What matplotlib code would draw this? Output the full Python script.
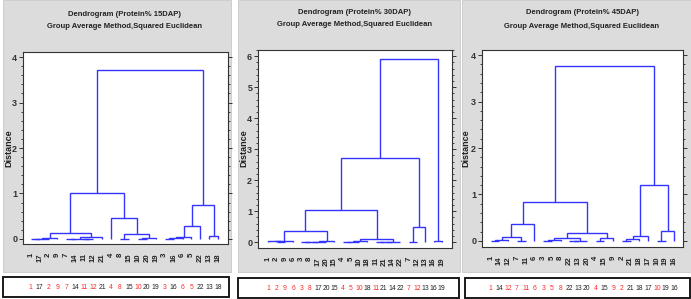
import matplotlib
matplotlib.use("Agg")
import matplotlib.pyplot as plt
from matplotlib.patches import Rectangle
from matplotlib.ticker import MultipleLocator
from matplotlib import transforms

# ---- data -------------------------------------------------------------
TITLES = ["Dendrogram (Protein% 15DAP)",
          "Dendrogram (Protein% 30DAP)",
          "Dendrogram (Protein% 45DAP)"]
SUBTITLE = "Group Average Method,Squared Euclidean"

LEAVES_15 = ["1", "17", "2", "9", "7", "14", "11", "12", "21", "4", "8",
             "15", "10", "20", "19", "3", "16", "6", "5", "22", "13", "18"]
LEAVES_30 = ["1", "2", "9", "6", "3", "8", "17", "20", "15", "4", "5",
             "10", "18", "11", "21", "14", "22", "7", "12", "13", "16", "19"]
LEAVES_45 = ["1", "14", "12", "7", "11", "6", "3", "5", "8", "22", "13",
             "20", "4", "15", "9", "2", "21", "18", "17", "10", "19", "16"]

# genotypes printed in red in the boxes under each dendrogram
RED_15 = ["1", "2", "9", "7", "11", "12", "4", "8", "10", "3", "6", "5"]
RED_30 = ["1", "2", "9", "6", "3", "8", "4", "5", "10", "11", "7", "12"]
RED_45 = ["1", "12", "7", "11", "6", "3", "5", "8", "4", "9", "2", "10"]

# merges: (left, right, distance); str = leaf label, int = earlier merge row
MERGES_15 = [
    ("1", "17", 0.0), (0, "2", 0.0), (1, "9", 0.02),
    ("7", "14", 0.0), ("11", "12", 0.0), (3, 4, 0.01), (5, "21", 0.035),
    (2, 6, 0.14),
    ("8", "15", 0.0), ("10", "20", 0.0), (9, "19", 0.02), (8, 10, 0.11),
    ("4", 11, 0.47), (7, 12, 1.01),
    ("3", "16", 0.0), (14, "6", 0.015), (15, "5", 0.05), (16, "22", 0.285),
    ("13", "18", 0.07), (17, 18, 0.745),
    (13, 19, 3.72),
]
MERGES_30 = [
    ("2", "9", 0.0), ("1", 0, 0.02), (1, "6", 0.025),
    ("3", "8", 0.0), (3, "17", 0.0), (4, "20", 0.005), (5, "15", 0.05),
    (2, 6, 0.37),
    ("4", "5", 0.0), (8, "10", 0.01), (9, "18", 0.03),
    ("11", "21", 0.0), (11, "14", 0.0), (12, "22", 0.005), (10, 13, 0.09),
    (7, 14, 1.05),
    ("7", "12", 0.0), (16, "13", 0.5), (15, 17, 2.73),
    ("16", "19", 0.03), (18, 19, 5.9),
]
MERGES_45 = [
    ("1", "14", 0.0), (0, "12", 0.02), ("7", "11", 0.0), (1, 2, 0.08),
    (3, "6", 0.36),
    ("3", "5", 0.0), (5, "8", 0.02), ("22", "13", 0.0), (7, "20", 0.0),
    (6, 8, 0.06), ("4", "15", 0.0), (10, "9", 0.06), (9, 11, 0.17),
    (4, 12, 0.84),
    ("2", "21", 0.0), (14, "18", 0.04), (15, "17", 0.11),
    ("10", "19", 0.0), (17, "16", 0.21), (16, 18, 1.2),
    (13, 19, 3.77),
]

# ---- layout (pixel boxes on the 691x299 canvas) ------------------------
W, H = 691, 299
BLUE = "#3434ff"
RED = "#ff2a2a"
GRAY = "#dcdcdc"
FONT = ["Liberation Sans", "DejaVu Sans"]

LAYOUT = [
    dict(gray=(3, 0, 228, 272), box=(3, 277, 226, 20), ax=(23, 52, 205, 192),
         xlim=(-0.86, 22.09), ylim=(-0.11, 4.11), title_x=125, title_y=(15, 27),
         ylab_x=9, ymax=4),
    dict(gray=(238, 0, 222, 272), box=(238, 278, 221, 20), ax=(258, 50, 194, 198),
         xlim=(-1.25, 22.24), ylim=(-0.19, 6.2), title_x=355, title_y=(12, 25),
         ylab_x=244, ymax=6),
    dict(gray=(462, 0, 229, 272), box=(465, 278, 225, 20), ax=(482, 50, 201, 197),
         xlim=(-1.0, 22.0), ylim=(-0.13, 4.11), title_x=582, title_y=(13, 26),
         ylab_x=466, ymax=4),
]


def fx(px):
    return px / W


def fy(py):
    return 1 - py / H


def draw_tree(ax, leaves, merges):
    pos = {lab: i for i, lab in enumerate(leaves)}
    nodes = []

    def get(ref):
        if isinstance(ref, str):
            return pos[ref], 0.0
        return nodes[ref]

    for left, right, h in merges:
        xl, hl = get(left)
        xr, hr = get(right)
        ax.plot([xl, xl, xr, xr], [hl, h, h, hr], color=BLUE, lw=1.0,
                solid_capstyle="butt", solid_joinstyle="miter")
        nodes.append(((xl + xr) / 2, h))


fig = plt.figure(figsize=(W / 100, H / 100), dpi=100)
fig.patch.set_facecolor("white")

panels = [(LEAVES_15, MERGES_15, RED_15),
          (LEAVES_30, MERGES_30, RED_30),
          (LEAVES_45, MERGES_45, RED_45)]

for k, ((leaves, merges, reds), lay) in enumerate(zip(panels, LAYOUT)):
    gx, gy, gw, gh = lay["gray"]
    fig.add_artist(Rectangle((fx(gx), fy(gy + gh)), gw / W, gh / H,
                             transform=fig.transFigure, facecolor=GRAY,
                             edgecolor="#c8c8c8", lw=0.6, zorder=-5))
    bx, by, bw, bh = lay["box"]
    fig.add_artist(Rectangle((fx(bx), fy(by + bh)), bw / W, bh / H,
                             transform=fig.transFigure, facecolor="white",
                             edgecolor="#1a1a1a", lw=1.4, zorder=-4))

    axx, axy, axw, axh = lay["ax"]
    ax = fig.add_axes([fx(axx), fy(axy + axh), axw / W, axh / H])
    ax.set_facecolor("white")
    draw_tree(ax, leaves, merges)
    ax.set_xlim(*lay["xlim"])
    ax.set_ylim(*lay["ylim"])
    for sp in ax.spines.values():
        sp.set_color("#333333")
        sp.set_linewidth(0.8)

    yt = list(range(lay["ymax"] + 1))
    ax.set_yticks(yt)
    ax.set_yticklabels([str(v) for v in yt], fontsize=6.5, fontweight="bold",
                       family=FONT, color="#222222")
    ax.yaxis.set_minor_locator(MultipleLocator(0.2))
    ax.tick_params(axis="y", which="major", direction="out", length=3,
                   width=0.7, left=True, right=True, pad=1.2, colors="#333333")
    ax.tick_params(axis="y", which="minor", direction="out", length=1.6,
                   width=0.5, left=True, right=True)

    ax.set_xticks(range(len(leaves)))
    ax.set_xticklabels(leaves, rotation=90, fontsize=5.6, family=FONT,
                       fontweight="bold", color="#222222")
    ax.tick_params(axis="x", length=0, pad=6.5)

    fig.text(fx(lay["title_x"]), fy(lay["title_y"][0]), TITLES[k],
             ha="center", va="center", fontsize=5.5, fontweight="bold",
             family=FONT, color="#222222")
    fig.text(fx(lay["title_x"]), fy(lay["title_y"][1]), SUBTITLE,
             ha="center", va="center", fontsize=5.5, fontweight="bold",
             family=FONT, color="#222222")
    fig.text(fx(lay["ylab_x"]), fy(148), "Distance", rotation=90,
             ha="center", va="center", fontsize=6.5, fontweight="bold",
             family=FONT, color="#222222")

    # genotype numbers in the box, aligned with the leaves
    trans = transforms.blended_transform_factory(ax.transData, fig.transFigure)
    for i, lab in enumerate(leaves):
        ax.text(i, fy(by + bh / 2 + 0.5), lab, transform=trans, ha="center",
                va="center", fontsize=4.9, family=FONT, clip_on=False,
                color=RED if lab in reds else "#222222")

fig.savefig("out.png", dpi=100, facecolor="white")
